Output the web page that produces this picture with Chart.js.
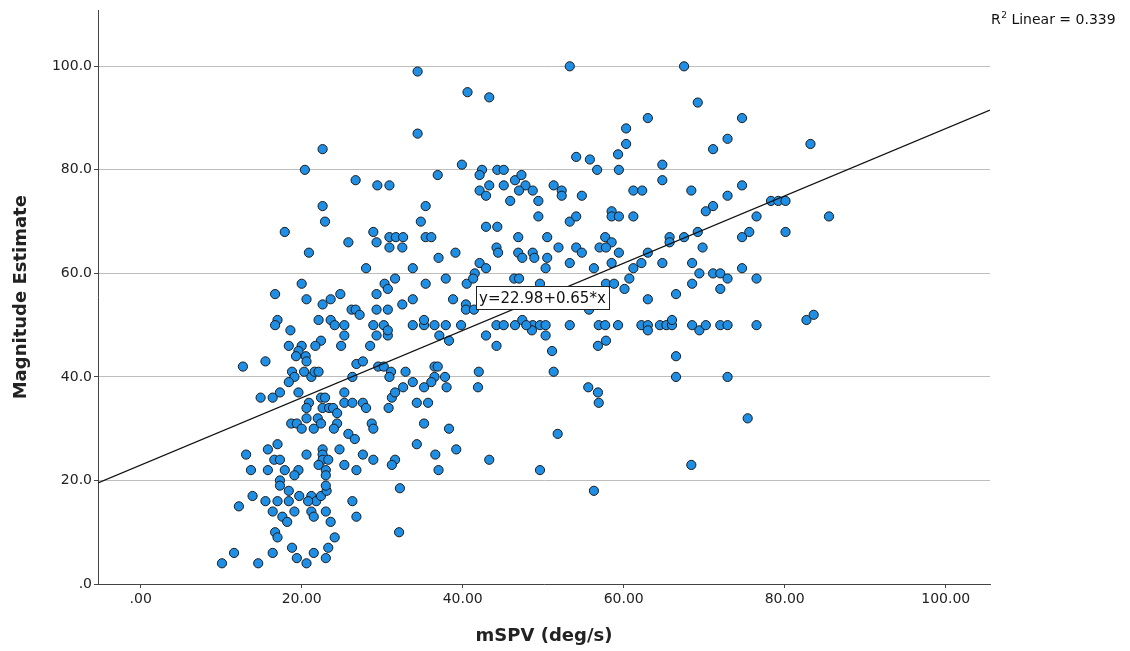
<!DOCTYPE html>
<html lang="en">
<head>
  <meta charset="UTF-8">
  <title>mSPV vs Magnitude Estimate</title>
</head>
<style>
  body { margin: 0; background: #fff; }
  .box { width: 1130px; height: 651px; }
</style>
<body>
<div class="box">
  <canvas id="scatterChart" width="1130" height="651"></canvas>
</div>

<script src="https://cdn.jsdelivr.net/npm/chart.js"></script>

<script>
  // mSPV (deg/s) per observation
  const mspv = [
    34.4, 40.6, 43.3, 34.4, 39.9, 42.4, 42.1, 44.3, 45.1, 36.9,
    29.4, 30.9, 43.3, 45.1, 42.1, 42.9, 46.5, 47.3, 47.8, 47.0,
    48.7, 45.9, 49.4, 49.4, 35.4, 34.8, 42.9, 44.3, 28.9, 22.6,
    20.4, 26.7, 22.6, 22.9, 17.9, 53.3, 67.5, 69.2, 63.0, 60.3,
    60.3, 59.3, 54.1, 55.8, 56.7, 59.4, 64.8, 64.8, 51.3, 52.3,
    52.3, 54.8, 61.2, 62.3, 68.4, 53.3, 54.1, 58.5, 58.5, 59.4,
    61.2, 69.2, 74.7, 72.9, 71.1, 83.2, 74.7, 72.9, 70.2, 71.1,
    78.3, 79.2, 80.1, 76.5, 85.5, 75.6, 80.1, 74.7, 69.8, 68.5,
    69.4, 71.1, 72.0, 72.9, 74.7, 76.5, 68.5, 72.0, 68.5, 69.4,
    70.2, 72.0, 72.9, 76.5, 82.7, 83.6, 72.9, 50.5, 51.9, 48.7,
    48.9, 50.5, 50.3, 53.3, 54.1, 54.8, 57.7, 58.5, 57.0, 57.8,
    59.4, 58.5, 56.3, 65.7, 65.7, 67.5, 63.0, 62.2, 61.2, 64.8,
    60.7, 60.1, 66.5, 63.0, 49.6, 57.8, 58.8, 55.7, 48.7, 49.6,
    50.3, 48.6, 53.3, 56.9, 57.7, 59.3, 62.2, 63.0, 63.0, 64.5,
    65.3, 66.0, 66.0, 50.3, 51.1, 57.8, 56.8, 51.3, 66.5, 66.5,
    55.6, 56.8, 56.9, 51.8, 49.6, 56.3, 68.4, 31.2, 34.3, 35.7,
    30.8, 28.7, 28.9, 35.2, 38.3, 34.3, 36.6, 39.2, 28.9, 31.6,
    31.2, 37.0, 43.3, 32.2, 32.1, 14.9, 16.4, 17.3, 20.9, 22.4,
    22.9, 20.6, 22.6, 23.4, 23.9, 24.4, 25.3, 26.3, 27.6, 28.0,
    20.6, 22.0, 18.7, 19.4, 20.0, 21.5, 22.4, 24.4, 24.0, 25.8,
    26.6, 17.0, 15.8, 13.1, 16.6, 17.3, 20.6, 22.6, 22.6, 22.6,
    23.3, 22.1, 23.0, 23.0, 24.7, 25.3, 27.6, 26.8, 13.7, 15.8,
    17.9, 19.6, 19.1, 17.3, 17.3, 18.4, 19.7, 21.2, 21.8, 20.8,
    22.4, 23.1, 23.0, 13.9, 12.2, 15.5, 17.0, 18.4, 16.4, 17.6,
    18.2, 19.1, 21.2, 21.5, 23.0, 23.6, 26.3, 26.8, 16.7, 17.0,
    24.1, 23.3, 23.0, 18.8, 16.4, 21.5, 19.4, 20.6, 11.6, 10.1,
    14.6, 29.3, 25.8, 20.9, 28.0, 20.0, 16.7, 20.6, 22.6, 23.6,
    24.8, 26.2, 26.7, 27.2, 29.3, 29.3, 17.0, 16.7, 18.6, 22.1,
    23.6, 24.1, 25.3, 25.3, 28.9, 29.3, 22.4, 21.7, 18.4, 20.0,
    19.6, 19.3, 20.5, 20.6, 24.9, 28.5, 12.7, 15.5, 18.8, 19.1,
    18.4, 20.3, 21.2, 21.6, 22.1, 26.8, 27.6, 26.3, 19.6, 25.3,
    29.5, 30.9, 31.7, 32.6, 30.9, 32.5, 35.4, 36.1, 46.9, 44.2,
    44.4, 46.9, 47.4, 39.1, 37.0, 42.1, 42.9, 41.5, 33.8, 37.9,
    35.4, 31.6, 30.3, 30.7, 40.5, 41.3, 46.4, 47.0, 33.8, 32.5,
    38.8, 30.7, 40.4, 40.4, 41.4, 30.2, 33.8, 35.2, 35.2, 36.5,
    37.9, 39.8, 44.2, 45.1, 46.5, 47.4, 47.9, 30.7, 30.7, 37.1,
    38.3, 42.9, 44.2, 30.2, 31.1, 30.9, 32.9, 36.5, 36.9, 36.5,
    36.1, 35.2, 37.8, 33.8, 32.6, 31.6, 38.0, 42.0, 41.9, 75.4
  ];

  // magnitude estimate, same order as mspv
  const magnitude = [
    99, 95, 94, 87, 81, 80, 79, 80, 80, 79,
    77, 77, 77, 77, 76, 75, 78, 79, 77, 76,
    76, 74, 74, 71, 73, 70, 69, 69, 68, 84,
    80, 78, 73, 70, 68, 100, 100, 93, 90, 88,
    85, 83, 82.5, 82, 80, 80, 81, 78, 77, 76,
    75, 75, 76, 76, 76, 70, 71, 72, 71, 71,
    71, 68, 90, 86, 84, 85, 77, 75, 72, 73,
    74, 74, 74, 71, 71, 68, 68, 67, 65, 62,
    60, 60, 60, 59, 61, 59, 58, 57, 50, 49,
    50, 50, 50, 50, 51, 52, 40, 67, 65, 64,
    63, 63, 61, 62, 65, 64, 67, 66, 65, 65,
    64, 62, 61, 67, 66, 67, 64, 62, 61, 62,
    59, 57, 56, 55, 58, 58, 58, 53, 50, 50,
    50, 49, 50, 50, 50, 50, 50, 50, 49, 50,
    50, 50, 51, 48, 45, 47, 46, 41, 44, 40,
    38, 37, 35, 29, 22, 18, 23, 36, 35, 35,
    34, 31, 30, 31, 30, 27, 25, 26, 24, 24,
    23, 22, 24, 18.5, 10, 36, 36, 37, 35, 36,
    36, 34, 34, 34, 34, 33, 35, 35, 35, 34,
    32, 32, 31, 31, 30, 30, 31, 31, 30, 29,
    28, 27, 26, 25, 24, 24, 25, 26, 25, 24,
    24, 23, 22, 21, 26, 23, 25, 22, 22, 22,
    22, 22, 21, 20, 19, 18, 17, 17, 16, 16,
    17, 18, 19, 17, 15, 16, 16, 16, 14, 13,
    12, 14, 14, 13, 14, 12, 16, 13, 10, 9,
    9, 7, 5, 7, 6, 6, 5, 4, 6, 4,
    4, 66, 66, 64, 61, 58, 56, 55, 54, 55,
    56, 53, 53, 52, 56, 53, 51, 50, 49, 51,
    51, 50, 50, 48, 50, 48, 47, 46, 46, 46,
    45, 44, 44, 43, 46, 46, 42, 43, 41, 40,
    39, 41, 40, 41, 41, 42.5, 43, 40, 37, 37,
    42, 67, 67, 67, 65, 65, 67, 67, 67, 65,
    64, 64, 63, 64, 63, 62, 61, 60, 61, 59,
    58, 59, 58, 57, 58, 59, 59, 59, 55, 54,
    55, 53, 54, 53, 53, 50, 50, 50, 51, 50,
    50, 50, 50, 50, 50, 51, 50, 48, 49, 48,
    47, 48, 46, 42, 41, 40, 41, 42, 42, 40,
    39, 38, 40, 39, 38, 37, 38, 41, 38, 32
  ];

  const xTicks = [0, 20, 40, 60, 80, 100];
  const yTicks = [0, 20, 40, 60, 80, 100];
  const xRange = [-5.3, 105.5];
  const yRange = [0, 110.8];

  // fit shown in the chart
  const fitIntercept = 22.98;
  const fitSlope = 0.65;
  const rSquared = '0.339';
  const labelAt = [49.9, 55.3];

  const FONT = '"DejaVu Sans", "Liberation Sans", sans-serif';

  const points = mspv.map((x, i) => ({ x: x, y: magnitude[i] }));
  const fitLine = xRange.map(x => ({ x: x, y: fitIntercept + fitSlope * x }));

  const extras = {
    id: 'extras',
    afterDatasetsDraw(chart) {
      const { ctx, scales } = chart;
      ctx.save();

      // equation box
      const text = `y=${fitIntercept}+${fitSlope}*x`;
      ctx.font = '15px ' + FONT;
      const w = ctx.measureText(text).width + 6;
      const h = 23;
      const cx = scales.x.getPixelForValue(labelAt[0]);
      const cy = scales.y.getPixelForValue(labelAt[1]);
      ctx.fillStyle = '#fff';
      ctx.fillRect(cx - w / 2, cy - h / 2, w, h);
      ctx.strokeStyle = '#222';
      ctx.lineWidth = 1;
      ctx.strokeRect(Math.round(cx - w / 2) + 0.5, Math.round(cy - h / 2) + 0.5, Math.round(w), h);
      ctx.fillStyle = '#111';
      ctx.textAlign = 'center';
      ctx.textBaseline = 'middle';
      ctx.fillText(text, cx, cy + 1);

      // R squared note, top right
      ctx.textAlign = 'left';
      ctx.textBaseline = 'alphabetic';
      let x = chart.chartArea.right + 1;
      const base = 24;
      ctx.font = '14px ' + FONT;
      ctx.fillText('R', x, base);
      x += ctx.measureText('R').width;
      ctx.font = '9px ' + FONT;
      ctx.fillText('2', x + 0.5, base - 6);
      x += ctx.measureText('2').width + 0.5;
      ctx.font = '14px ' + FONT;
      ctx.fillText(' Linear = ' + rSquared, x, base);
      ctx.restore();
    }
  };

  const ctx = document.getElementById('scatterChart').getContext('2d');
  new Chart(ctx, {
    type: 'scatter',
    data: {
      datasets: [
        {
          type: 'line',
          data: fitLine,
          borderColor: '#111',
          borderWidth: 1.3,
          pointRadius: 0,
          fill: false,
          order: 0
        },
        {
          data: points,
          backgroundColor: '#1f8fe5',
          borderColor: '#1a1a1a',
          borderWidth: 1,
          pointRadius: 4.6,
          order: 1
        }
      ]
    },
    options: {
      responsive: false,
      animation: false,
      layout: { padding: { top: 8, right: 140, left: 0, bottom: 0 } },
      plugins: {
        legend: { display: false },
        tooltip: { enabled: false }
      },
      scales: {
        x: {
          type: 'linear',
          min: xRange[0],
          max: xRange[1],
          afterBuildTicks: s => { s.ticks = xTicks.map(v => ({ value: v })); },
          afterFit: s => { s.height = 67; },
          grid: { drawOnChartArea: false, drawTicks: true, tickLength: 4, tickColor: '#444' },
          border: { display: true, color: '#444', width: 1 },
          ticks: {
            maxRotation: 0,
            padding: 3,
            color: '#222',
            font: { family: FONT, size: 14 },
            callback: v => v === 0 ? '.00' : v.toFixed(2)
          },
          title: {
            display: true,
            text: 'mSPV (deg/s)',
            color: '#222',
            font: { family: FONT, size: 18, weight: 'bold' },
            padding: { top: 0, bottom: 4 }
          }
        },
        y: {
          type: 'linear',
          min: yRange[0],
          max: yRange[1],
          afterBuildTicks: s => { s.ticks = yTicks.map(v => ({ value: v })); },
          afterFit: s => { s.width = 98; },
          grid: { color: '#bdbdbd', lineWidth: 1, drawTicks: true, tickLength: 4, tickColor: '#444' },
          border: { display: true, color: '#444', width: 1 },
          ticks: {
            padding: 2,
            color: '#222',
            font: { family: FONT, size: 14 },
            callback: v => v === 0 ? '.0' : v.toFixed(1)
          },
          title: {
            display: true,
            text: 'Magnitude Estimate',
            color: '#222',
            font: { family: FONT, size: 18, weight: 'bold' },
            padding: { top: 11, bottom: 0 }
          }
        }
      }
    },
    plugins: [extras]
  });
</script>
</body>
</html>
